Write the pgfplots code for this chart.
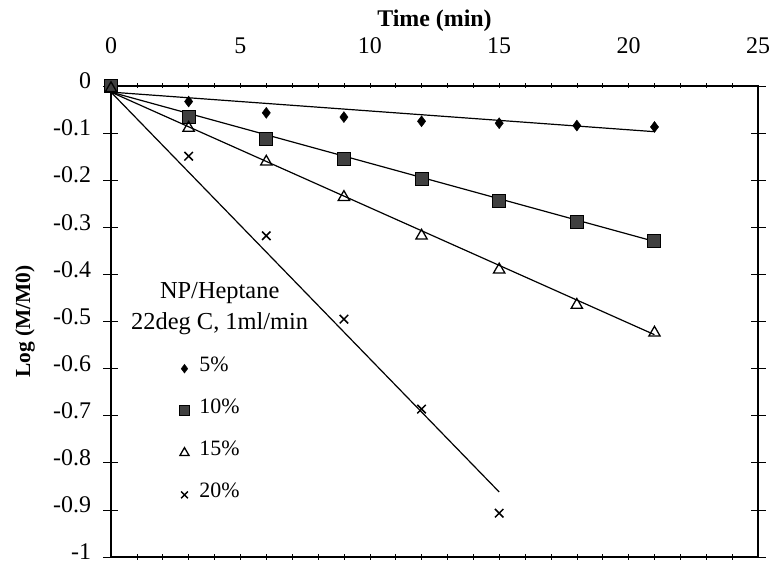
\documentclass[border=0pt]{standalone}
\usepackage{pgfplots}
\pgfplotsset{compat=1.18}
\usepackage{fontspec}
\setmainfont{Liberation Serif}
\begin{document}
\begin{tikzpicture}
\useasboundingbox (-111bp,-5bp) rectangle (663bp,557bp);
\begin{axis}[
  at={(0,0)}, anchor=south west,
  scale only axis, width=647bp, height=471bp,
  xmin=0, xmax=25, ymin=-1, ymax=0,
  xtick={0,5,...,25}, minor xtick={1,2,...,24},
  ytick={-1,-0.9,...,0},
  yticklabels={-1,-0.9,-0.8,-0.7,-0.6,-0.5,-0.4,-0.3,-0.2,-0.1,0},
  xticklabel pos=upper,
  tick align=center,
  major tick length=15bp, minor tick length=5bp,
  major x tick style={draw=none},
  minor x tick style={line width=0.6bp, black},
  y tick style={line width=0.6bp, black},
  /pgf/number format/assume math mode=true,
  tick label style={font=\fontsize{24}{26}\selectfont},
  xticklabel style={yshift=21bp},
  yticklabel style={xshift=-9bp, yshift=5bp},
  axis line style={line width=1.4bp, black},
  xlabel={\textbf{Time (min)}},
  xlabel style={font=\fontsize{24}{26}\selectfont, at={(axis description cs:0.5,1)}, anchor=base, yshift=59bp},
  ylabel={\textbf{Log (M/M0)}},
  ylabel style={font=\fontsize{21.5}{24}\selectfont, at={(axis description cs:0,0.5)}, anchor=center, yshift=86bp, xshift=0bp},
  legend style={at={(axis cs:2.6,-0.57)}, anchor=north west, draw=none, fill=none,
    font=\fontsize{22}{24}\selectfont, row sep=22bp, inner sep=0pt, column sep=0pt},
  legend cell align=left,
  legend image code/.code={\draw[#1, mark options={scale=0.8}] plot coordinates {(6bp,-4bp)}; \path[draw=none, fill=none] (0,0) rectangle (19bp,0.1bp);},
  clip=false,
]
% fitted lines
\addplot[black, line width=1.2bp, forget plot] coordinates {(0,-0.013) (21,-0.097)};
\addplot[black, line width=1.2bp, forget plot] coordinates {(0,-0.013) (21,-0.330)};
\addplot[black, line width=1.2bp, forget plot] coordinates {(0,-0.013) (21,-0.528)};
\addplot[black, line width=1.2bp, forget plot] coordinates {(0,-0.013) (15,-0.862)};
% data
\addplot[only marks, mark=diamond*, mark size=5.5bp, fill=black, draw=black] coordinates {
(0,0) (3,-0.033) (6,-0.057) (9,-0.066) (12,-0.075) (15,-0.079) (18,-0.084) (21,-0.087)};
\addplot[only marks, mark=square*, mark size=6.5bp, fill=black!75, draw=black, line width=1bp] coordinates {
(0,0) (3,-0.066) (6,-0.112) (9,-0.155) (12,-0.198) (15,-0.244) (18,-0.289) (21,-0.330)};
\addplot[only marks, mark=triangle, mark size=6.5bp, draw=black, line width=1.3bp] coordinates {
(0,-0.005) (3,-0.089) (6,-0.161) (9,-0.236) (12,-0.318) (15,-0.390) (18,-0.465) (21,-0.524)};
\addplot[only marks, mark=x, mark size=6bp, draw=black, line width=1.5bp] coordinates {
(3,-0.149) (6,-0.318) (9,-0.495) (12,-0.686) (15,-0.907)};
\legend{5\%,10\%,15\%,20\%}
\node[align=center, font=\fontsize{24.5}{31}\selectfont] at (axis cs:4.2,-0.472) {NP/Heptane\\22deg C, 1ml/min};
\end{axis}
\end{tikzpicture}
\end{document}
